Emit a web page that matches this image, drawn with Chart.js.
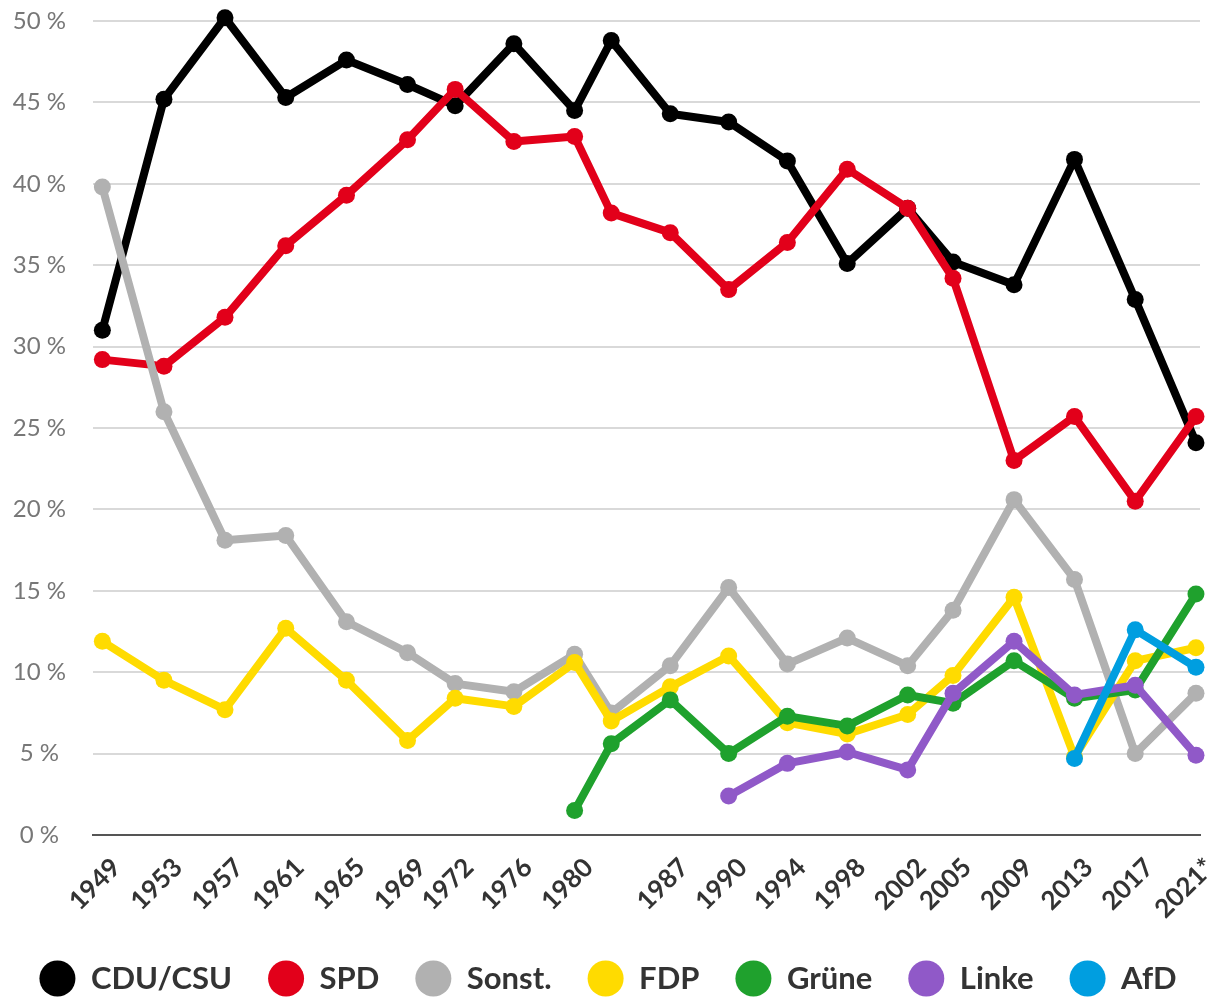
<!DOCTYPE html>
<html>
<head>
<meta charset="utf-8">
<script src="https://cdn.jsdelivr.net/npm/chart.js@4.4.1/dist/chart.umd.min.js"></script>
<style>
  html, body { margin: 0; padding: 0; background: #fff; }
  #wrap { width: 1216px; height: 997px; }
</style>
</head>
<body>
<div id="wrap"><canvas id="wahl"></canvas></div>
<script>
// Bundestagswahlen, Zweitstimmen in %
var wahltage = ['1949-08-14','1953-09-06','1957-09-15','1961-09-17','1965-09-19','1969-09-28','1972-11-19',
    '1976-10-03','1980-10-05','1983-03-06','1987-01-25','1990-12-02','1994-10-16','1998-09-27','2002-09-22',
    '2005-09-18','2009-09-27','2013-09-22','2017-09-24','2021-09-26'];
var jahre = ['1949','1953','1957','1961','1965','1969','1972','1976','1980','','1987','1990','1994','1998',
    '2002','2005','2009','2013','2017','2021*'];

var cdu    = [31.0, 45.2, 50.2, 45.3, 47.6, 46.1, 44.8, 48.6, 44.5, 48.8, 44.3, 43.8, 41.4, 35.1, 38.5, 35.2, 33.8, 41.5, 32.9, 24.1];
var spd    = [29.2, 28.8, 31.8, 36.2, 39.3, 42.7, 45.8, 42.6, 42.9, 38.2, 37.0, 33.5, 36.4, 40.9, 38.5, 34.2, 23.0, 25.7, 20.5, 25.7];
var sonst  = [39.8, 26.0, 18.1, 18.4, 13.1, 11.2, 9.3, 8.8, 11.1, 7.5, 10.4, 15.2, 10.5, 12.1, 10.4, 13.8, 20.6, 15.7, 5.0, 8.7];
var fdp    = [11.9, 9.5, 7.7, 12.7, 9.5, 5.8, 8.4, 7.9, 10.6, 7.0, 9.1, 11.0, 6.9, 6.2, 7.4, 9.8, 14.6, 4.8, 10.7, 11.5];
var gruene = [null, null, null, null, null, null, null, null, 1.5, 5.6, 8.3, 5.0, 7.3, 6.7, 8.6, 8.1, 10.7, 8.4, 8.9, 14.8];
var linke  = [null, null, null, null, null, null, null, null, null, null, null, 2.4, 4.4, 5.1, 4.0, 8.7, 11.9, 8.6, 9.2, 4.9];
var afd    = [null, null, null, null, null, null, null, null, null, null, null, null, null, null, null, null, null, 4.7, 12.6, 10.3];

var parteien = ['CDU/CSU', 'SPD', 'Sonst.', 'FDP', 'Grüne', 'Linke', 'AfD'];
var farben = ['#000000', '#e2001a', '#b1b1b1', '#ffdb00', '#1fa12d', '#9059c8', '#009ee0'];
var werte = [cdu, spd, sonst, fdp, gruene, linke, afd];

function alsJahr(s) {
    var d = new Date(s + 'T00:00:00Z');
    var y = d.getUTCFullYear();
    var a = Date.UTC(y, 0, 1), b = Date.UTC(y + 1, 0, 1);
    return y + (d.getTime() - a) / (b - a);
}
var xWerte = wahltage.map(alsJahr);

Chart.defaults.font.family = 'Lato, "Open Sans", sans-serif';

var datasets = parteien.map(function (name, i) {
    return {
        label: name,
        data: werte[i],
        borderColor: farben[i],
        backgroundColor: farben[i],
        pointBackgroundColor: farben[i],
        borderWidth: 8,
        pointRadius: 8.5,
        pointHoverRadius: 8.5,
        pointBorderWidth: 0,
        borderJoinStyle: 'round',
        tension: 0,
        clip: false,
        // spätere Parteien oben zeichnen
        order: parteien.length - 1 - i
    };
});

var ctx = document.getElementById('wahl');
var chart = new Chart(ctx, {
    type: 'line',
    data: {
        labels: xWerte,
        datasets: datasets
    },
    options: {
        responsive: true,
        maintainAspectRatio: false,
        animation: false,
        layout: { autoPadding: false, padding: { left: 0, right: 0, top: 0, bottom: -7 } },
        scales: {
            x: {
                type: 'linear',
                min: 1949,
                max: 2022,
                afterBuildTicks: function (scale) {
                    scale.ticks = xWerte.map(function (v) { return { value: v }; });
                },
                afterFit: function (scale) {
                    scale.paddingLeft = 0;
                    scale.paddingRight = 16;
                    scale.height = 92;
                },
                ticks: {
                    autoSkip: false,
                    minRotation: 45,
                    maxRotation: 45,
                    padding: 17,
                    labelOffset: 14,
                    color: '#333',
                    font: { size: 26, weight: 'bold' },
                    callback: function (value, index) { return jahre[index]; }
                },
                grid: { display: false, drawTicks: false },
                border: { display: true, color: '#555', width: 2 }
            },
            y: {
                min: 0,
                max: 50,
                afterFit: function (scale) {
                    scale.width = 93;
                    scale.paddingTop = 21;
                    scale.paddingBottom = 14;
                },
                ticks: {
                    stepSize: 5,
                    padding: 27,
                    crossAlign: 'center',
                    color: '#777',
                    font: { size: 24 },
                    callback: function (v) { return v + ' %'; }
                },
                grid: { color: '#d9d9d9', lineWidth: 2, drawTicks: false },
                border: { display: false }
            }
        },
        plugins: {
            tooltip: { enabled: false },
            legend: {
                position: 'bottom',
                labels: {
                    usePointStyle: true,
                    pointStyle: 'circle',
                    pointStyleWidth: 36,
                    boxHeight: 25.5,
                    padding: 36,
                    color: '#333',
                    font: { size: 31, weight: 'bold' },
                    sort: function (a, b) { return a.datasetIndex - b.datasetIndex; },
                    generateLabels: function (chart) {
                        var items = Chart.defaults.plugins.legend.labels.generateLabels(chart);
                        items.forEach(function (it) { it.lineWidth = 0; });
                        return items;
                    }
                }
            }
        }
    }
});
</script>
</body>
</html>
